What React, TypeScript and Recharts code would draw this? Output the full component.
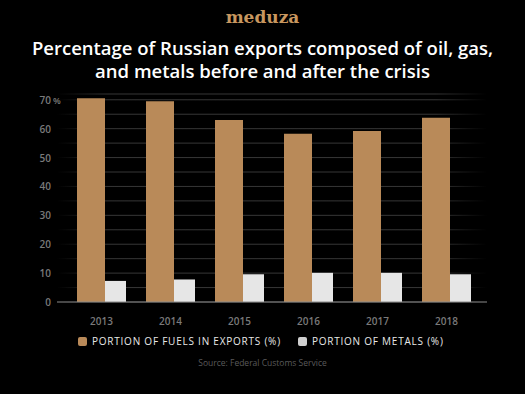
import { Bar, BarChart, CartesianGrid, XAxis, YAxis } from "recharts";

const years = ["2013", "2014", "2015", "2016", "2017", "2018"];
const fuels = [70.5, 69.5, 63, 58.2, 59.2, 63.8];
const metals = [7.3, 7.8, 9.6, 10.1, 10.1, 9.6];
const yTicks = [0, 5, 10, 15, 20, 25, 30, 35, 40, 45, 50, 55, 60, 65, 70];

const data = years.map((year, i) => ({ year, fuels: fuels[i], metals: metals[i] }));

const GOLD = "#b98a59";
const LIGHT = "#e6e6e6";
const FONT = "'Open Sans', Lato, sans-serif";

function YTick({ x, y, payload }: any) {
  const v = payload.value as number;
  if (v % 10 !== 0) return null;
  return (
    <g>
      <text x={x} y={y} dy={4} textAnchor="end" fill="#7a7a7a" fontSize={10} fontWeight={600} fontFamily={FONT}>
        {v}
      </text>
      {v === 70 && (
        <text x={x + 2} y={y} dy={4} textAnchor="start" fill="#7a7a7a" fontSize={9} fontWeight={600} fontFamily={FONT}>
          %
        </text>
      )}
    </g>
  );
}

function Swatch({ color, label }: { color: string; label: string }) {
  return (
    <div style={{ display: "flex", alignItems: "center", gap: 5 }}>
      <div style={{ width: 9, height: 9, borderRadius: 2, background: color }} />
      <span style={{ color: "#e8e8e8", fontSize: 10, letterSpacing: 0.77 }}>{label}</span>
    </div>
  );
}

export default function App() {
  return (
    <div
      style={{
        position: "absolute",
        left: 0,
        top: 0,
        width: 525,
        height: 394,
        background: "#000",
        fontFamily: FONT,
        overflow: "hidden",
      }}
    >
      <div
        style={{
          position: "absolute",
          top: 7,
          width: 525,
          textAlign: "center",
          color: "#c8975f",
          fontFamily: "'DejaVu Serif', serif",
          fontWeight: 700,
          fontSize: 17,
        }}
      >
        meduza
      </div>
      <div
        style={{
          position: "absolute",
          top: 36,
          width: 525,
          textAlign: "center",
          color: "#fff",
          fontWeight: 600,
          fontSize: 18.5,
          lineHeight: "23px",
        }}
      >
        Percentage of Russian exports composed of oil, gas,
        <br />
        and metals before and after the crisis
      </div>

      <div style={{ position: "absolute", left: 0, top: 0 }}>
        <BarChart
          width={525}
          height={394}
          data={data}
          margin={{ top: 94, right: 38, bottom: 62, left: 0 }}
          barGap={0}
        >
          <defs>
            <linearGradient id="gridFade" gradientUnits="userSpaceOnUse" x1={57} y1={0} x2={487} y2={0}>
              <stop offset="0" stopColor="#363636" stopOpacity={0} />
              <stop offset="0.12" stopColor="#363636" stopOpacity={1} />
              <stop offset="0.88" stopColor="#363636" stopOpacity={1} />
              <stop offset="1" stopColor="#363636" stopOpacity={0} />
            </linearGradient>
          </defs>
          <CartesianGrid vertical={false} stroke="url(#gridFade)" strokeWidth={1} />
          <XAxis
            dataKey="year"
            axisLine={{ stroke: "#8a8a8a", strokeWidth: 1.2 }}
            tickLine={false}
            padding={{ left: 10, right: 6 }}
            tick={{ fill: "#7a7a7a", fontSize: 10, fontWeight: 600, fontFamily: FONT }}
            tickMargin={10}
            height={30}
          />
          <YAxis
            domain={[0, 72]}
            ticks={yTicks}
            axisLine={false}
            tickLine={false}
            tickSize={0}
            tickMargin={6}
            width={57}
            tick={<YTick />}
            interval={0}
          />
          <Bar dataKey="fuels" fill={GOLD} barSize={28} isAnimationActive={false} />
          <Bar dataKey="metals" fill={LIGHT} barSize={21} isAnimationActive={false} />
        </BarChart>
      </div>

      <div style={{ position: "absolute", top: 334, left: 78, display: "flex", gap: 17 }}>
        <Swatch color={GOLD} label="PORTION OF FUELS IN EXPORTS (%)" />
        <Swatch color="#cfcfcf" label="PORTION OF METALS (%)" />
      </div>
      <div
        style={{
          position: "absolute",
          top: 357,
          width: 525,
          textAlign: "center",
          color: "#5a5a5a",
          fontSize: 8.5,
        }}
      >
        Source: Federal Customs Service
      </div>
    </div>
  );
}
